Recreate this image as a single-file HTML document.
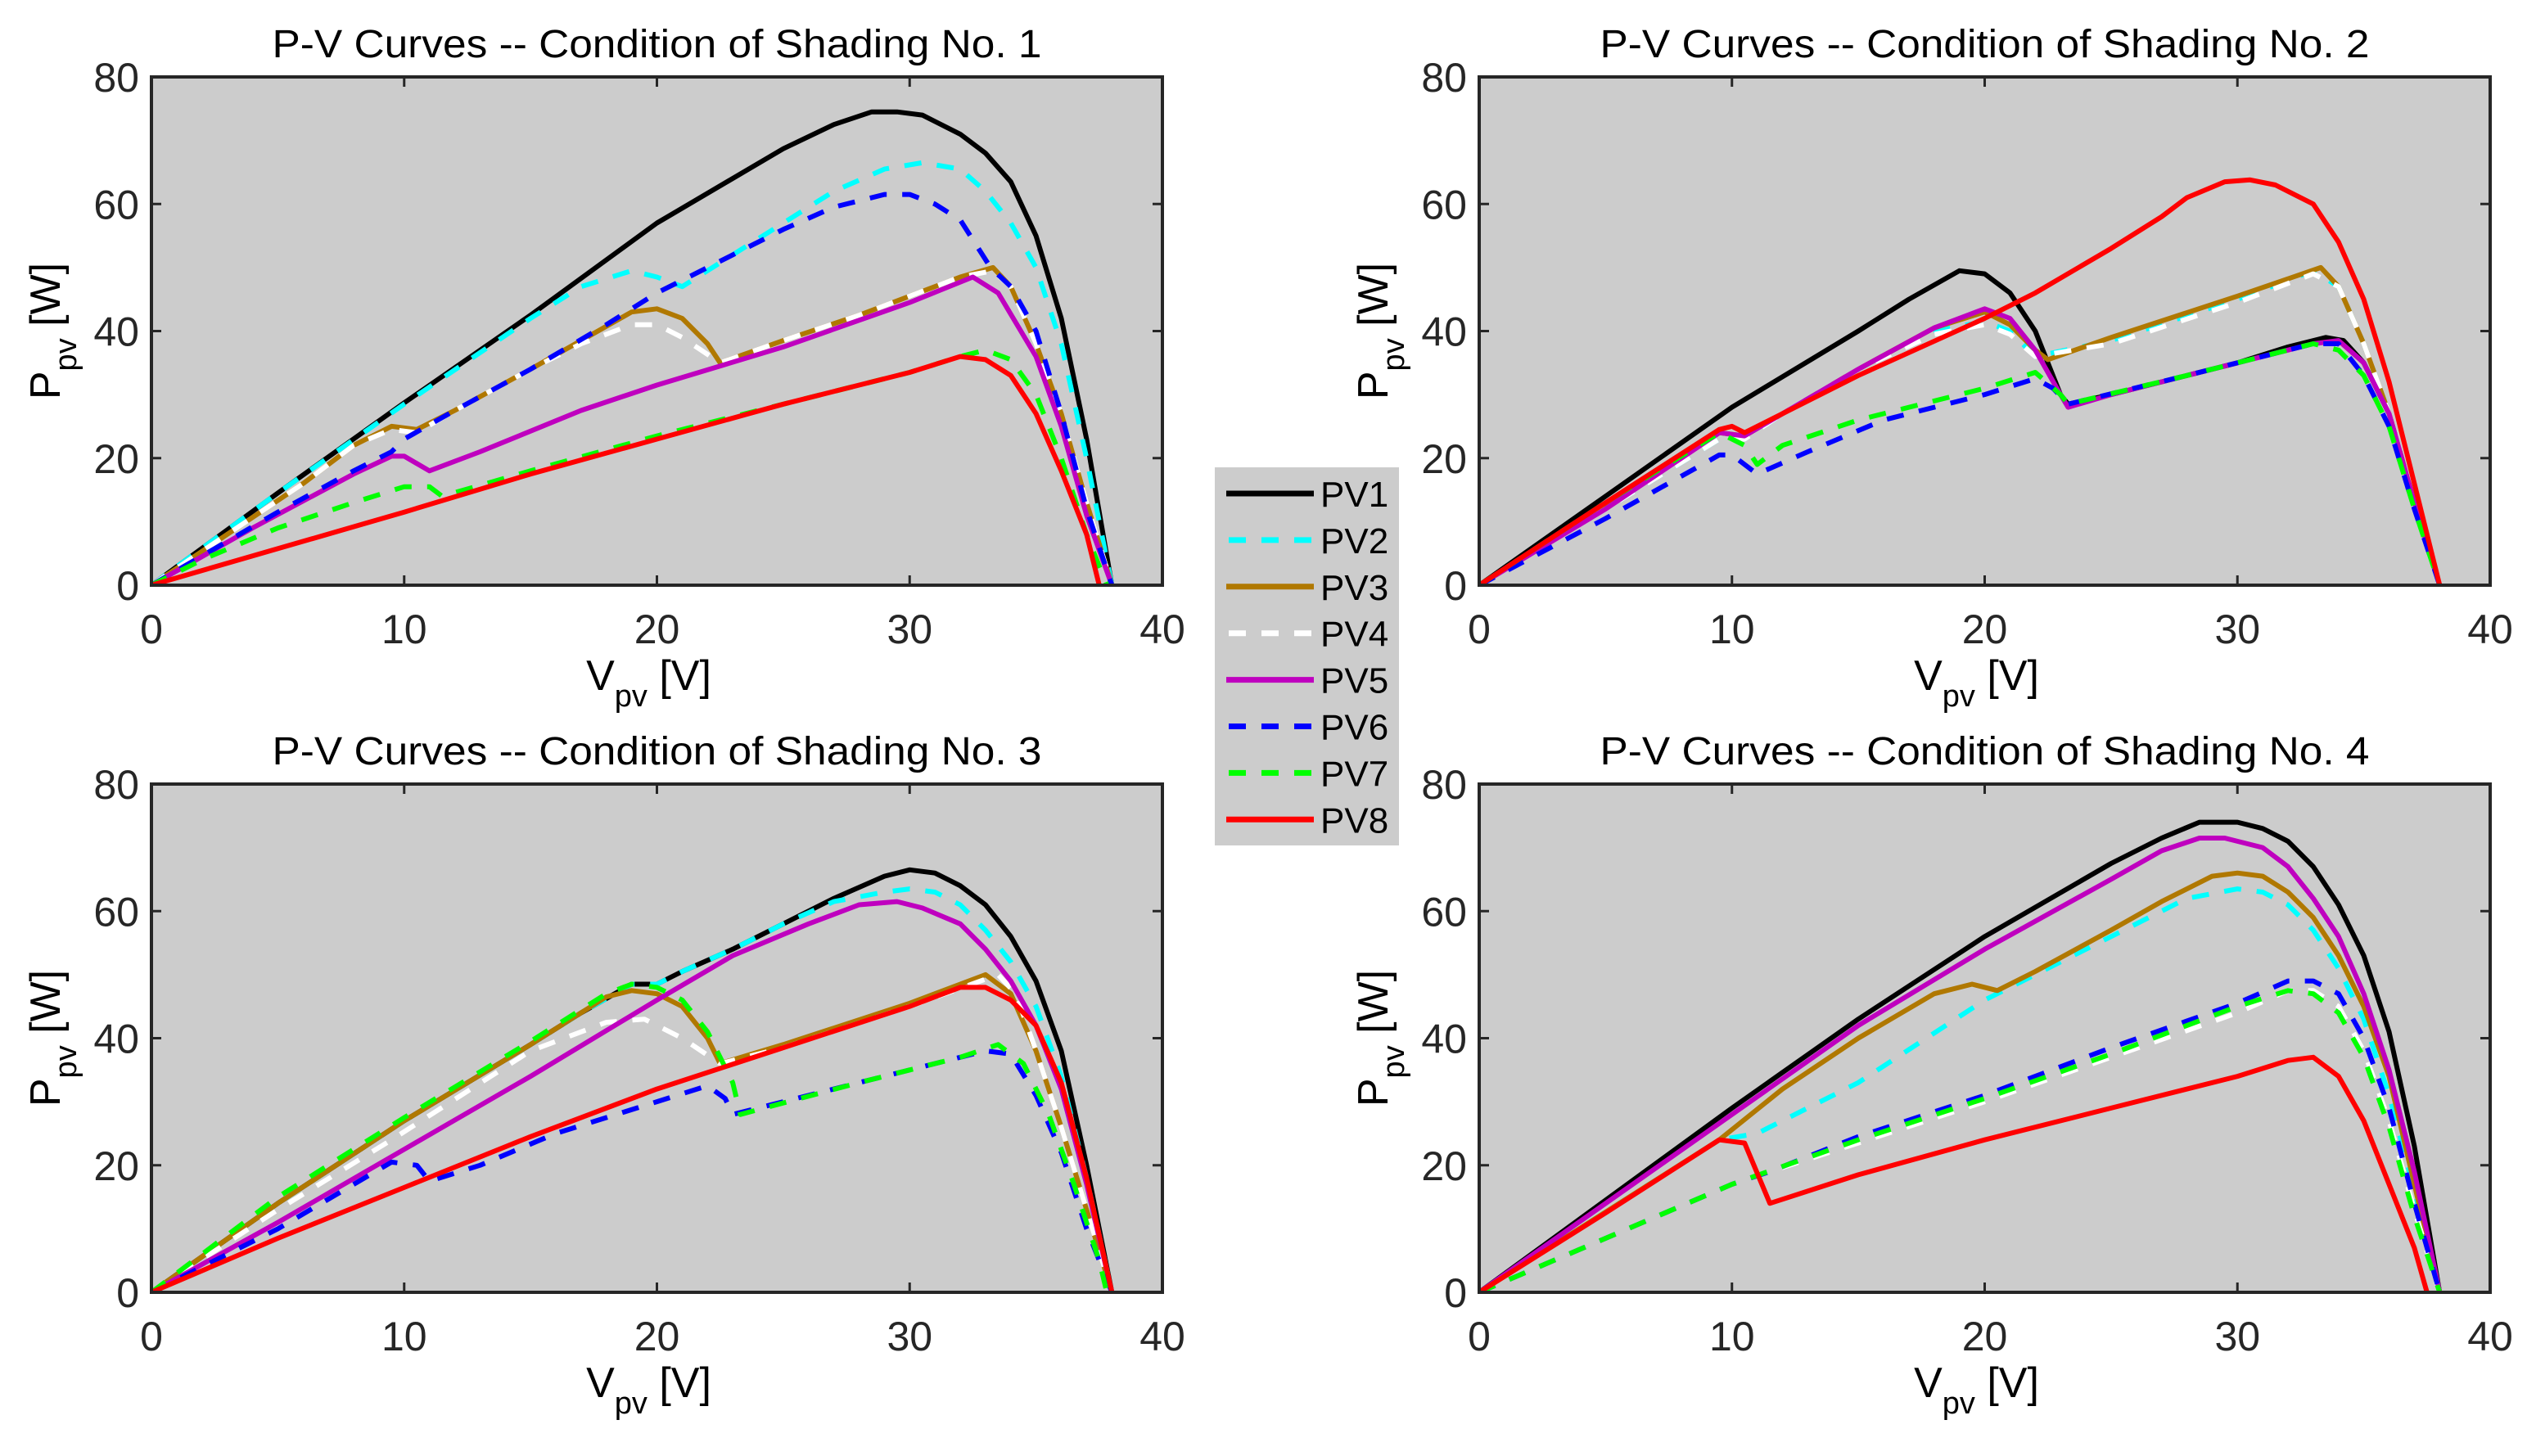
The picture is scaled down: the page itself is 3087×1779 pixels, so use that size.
<!DOCTYPE html>
<html><head><meta charset="utf-8"><style>
html,body{margin:0;padding:0;background:#fff;}
svg{display:block;font-family:"Liberation Sans",Arial,sans-serif;}
</style></head><body>
<svg id="fig" width="3087" height="1779" viewBox="0 0 3087 1779" xmlns="http://www.w3.org/2000/svg"></svg>
<script>
// ---- data: [V, P] pairs per shading condition / PV curve ----
const sh1_pv1=[[0,0],[5,14.5],[10,28.7],[15,42.5],[20,57],[25,68.7],[27,72.5],[28.5,74.5],[29.5,74.5],[30.5,74],[32,71],[33,68],[34,63.5],[35,55],[36,42],[37,23],[38,0]];
const sh1_pv2=[[0,0],[5,14.5],[10,28.5],[15,42],[17,47],[19,49.5],[20,48.5],[21,47],[23,52],[25,57],[27,62],[29,65.5],[30.5,66.5],[32,65.5],[33,62],[34,57],[35,50],[36,38],[37,20],[38,0]];
const sh1_pv3=[[0,0],[3,8],[6,16],[8,22],[9.5,25],[10.5,24.5],[12,27.5],[15,34],[17,38.5],[19,43],[20,43.5],[21,42],[22,38],[22.5,35],[25,38.5],[28,42.5],[30,45.5],[32,48.5],[33.3,50],[34,47],[35,38],[36,27],[37,13],[38,0]];
const sh1_pv4=[[0,0],[3,8],[6,16],[8,22],[9.5,24.5],[10.5,24],[12,27.5],[15,34],[17,38],[19,41],[20,41],[21,39],[22.5,35],[25,38.5],[28,42.5],[30,45.5],[32,48.5],[33.3,49.5],[34,47],[35,38],[36,27],[37,13],[38,0]];
const sh1_pv5=[[0,0],[4,9],[8,17.5],[9.5,20.3],[10,20.3],[11,18],[13,21],[17,27.5],[20,31.5],[25,37.5],[30,44.5],[32.5,48.5],[33.5,46],[35,36],[36,25],[37,11],[38,0]];
const sh1_pv6=[[0,0],[5,11.5],[8,18],[9.5,21],[10,23],[12,27.5],[15,34],[18,41],[20,46],[22,50],[25,56],[27,59.5],[29,61.5],[30,61.5],[31,60],[32,57.5],[33.2,50],[34,47],[35,40],[36,27],[37,12],[38,0]];
const sh1_pv7=[[0,0],[2,4],[5,9],[8,13],[10,15.5],[11,15.5],[11.5,14],[15,18],[20,23.5],[25,28.5],[30,33.5],[32,36],[33,37],[34,35.5],[35,30],[36,20],[37,8],[37.8,0]];
const sh1_pv8=[[0,0],[10,11.5],[15,17.5],[20,23],[25,28.5],[30,33.5],[32,36],[33,35.5],[34,33],[35,27],[36,18],[37,8],[37.5,0]];

const sh2_pv1=[[0,0],[5,14],[10,28],[15,40],[17,45],[19,49.5],[20,49],[21,46],[22,40],[23,30],[23.3,28.5],[25,30],[28,33],[30,35],[32,37.5],[33.5,39],[34.2,38.5],[35,35],[36,27],[37,13],[38,0]];
const sh2_pv2=[[0,0],[5,12],[9.5,23],[10.5,23],[12,27],[15,34],[18,40],[20,41.5],[21,40],[22,36],[25,38.5],[30,45],[33,49.5],[34,47],[35,38],[36,27],[37,13],[38,0]];
const sh2_pv3=[[0,0],[5,12.5],[9.5,24],[10.5,23.5],[12,27],[15,34],[18,40.5],[20,43],[21,41],[22,37],[22.5,35.5],[25,39],[30,45.5],[33.3,50],[34,47],[35,38],[36,27],[37,13],[38,0]];
const sh2_pv4=[[0,0],[5,12],[9.5,23],[10.5,23],[12,27],[15,34],[18,39.5],[20,41],[21,39.5],[22,36],[25,38],[30,44.5],[33,49],[34,47],[35,38],[36,27],[37,13],[38,0]];
const sh2_pv5=[[0,0],[5,12],[9.5,24],[10.5,23.5],[12,27],[15,34],[18,40.5],[20,43.5],[21,42],[22,37],[23,30],[23.3,28],[25,30],[30,35],[33,38],[34,38.5],[35,35],[36,27],[37,13],[38,0]];
const sh2_pv6=[[0,0],[5,10.5],[9.5,20.5],[10,20.5],[11,17.5],[13,21],[16,26],[20,30],[22,32.5],[22.7,31],[23.3,28.5],[28,33],[33,38],[34,38],[35,33],[36,25],[37,12],[38,0]];
const sh2_pv7=[[0,0],[5,13],[9.5,24],[10.5,22],[11,19],[12,22],[15,26],[20,31],[22,33.5],[23,30],[23.3,28.5],[28,33],[33,38],[34,37],[35,33],[36,25],[37,12],[38,0]];
const sh2_pv8=[[0,0],[5,13],[9.5,24.5],[10,25],[10.5,24],[12,27],[15,33],[20,42],[22,46],[25,53],[27,58],[28,61],[29.5,63.5],[30.5,63.8],[31.5,63],[33,60],[34,54],[35,45],[36,32],[37,16],[38,0]];

const sh3_pv1=[[0,0],[5,14],[10,27],[15,39],[17,44],[19,48.5],[20,48.5],[21,50.5],[23,54],[25,58],[27,62],[29,65.5],[30,66.5],[31,66],[32,64],[33,61],[34,56],[35,49],[36,38],[37,20],[38,0]];
const sh3_pv2=[[0,0],[5,14],[10,27],[15,39],[17,44],[19,48.5],[20,48.5],[21,50.5],[23,54],[25,58],[27,61.5],[29,63],[30,63.5],[31,63],[32,61],[33,57],[34,52],[35,45],[36,34],[37,18],[38,0]];
const sh3_pv3=[[0,0],[5,14],[10,27],[15,39],[18,46.5],[19,47.5],[20,47],[21,45],[22,40],[22.5,36],[25,39],[30,45.5],[33,50],[34,47],[35,38],[36,26],[37,13],[38,0]];
const sh3_pv4=[[0,0],[5,13],[9.5,24],[15,38],[18,42.5],[19.5,43],[21,40],[22.5,36],[25,38.5],[30,45],[33.5,50],[34.2,47],[35,38],[36,26],[37,13],[38,0]];
const sh3_pv5=[[0,0],[5,11],[10,22.5],[15,34],[20,46],[23,53],[26,58],[28,61],[29.5,61.5],[30.5,60.5],[32,58],[33,54],[34,49],[35,42],[36,32],[37,17],[38,0]];
const sh3_pv6=[[0,0],[5,10],[9.5,20.5],[10.5,20],[11,17.5],[13,20],[16,25],[20,30],[22,32.5],[22.7,30.5],[23,28],[28,33],[32,37],[33,38],[34,37.5],[35,31],[36,22],[37,10],[38,0]];
const sh3_pv7=[[0,0],[5,15],[10,27.5],[15,39.5],[18,47],[19,48.5],[20,48],[21,46],[22,41],[23,33],[23.3,28],[28,33],[32,37],[33.5,39],[34.5,36],[35.5,28],[36.5,17],[37.5,5],[37.8,0]];
const sh3_pv8=[[0,0],[5,8.5],[10,16.5],[15,24.5],[20,32],[25,38.5],[30,45],[32,48],[33,48],[34,46],[35,42],[36,33],[37,18],[38,0]];

const sh4_pv1=[[0,0],[5,14.5],[10,29],[15,43],[20,56],[25,67.5],[27,71.5],[28.5,74],[30,74],[31,73],[32,71],[33,67],[34,61],[35,53],[36,41],[37,23],[38,0]];
const sh4_pv2=[[0,0],[9.5,24],[11,25],[15,33],[20,46],[25,56],[28,62],[30,63.5],[31,63],[32,61],[33,57],[34,51],[35,43],[36,31],[37,16],[38,0]];
const sh4_pv3=[[0,0],[9.5,24],[12,32],[15,40],[18,47],[19.5,48.5],[20.5,47.5],[22,50.5],[25,57],[27,61.5],[29,65.5],[30,66],[31,65.5],[32,63],[33,59],[34,53],[35,45],[36,34],[37,17],[38,0]];
const sh4_pv4=[[0,0],[10,17],[11.5,19],[15,23.5],[20,30],[25,37],[30,44],[32,47.5],[33,47.5],[34,45],[35,38],[36,27],[37,13],[38,0]];
const sh4_pv5=[[0,0],[10,28],[15,42],[20,54],[25,65],[27,69.5],[28.5,71.5],[29.5,71.5],[31,70],[32,67],[33,62],[34,56],[35,47],[36,35],[37,19],[38,0]];
const sh4_pv6=[[0,0],[5,8.5],[10,17],[11.5,19],[15,24.5],[20,31],[25,38.5],[30,45.5],[32,49],[33,49],[34,47],[35,40],[36,29],[37,14],[38,0]];
const sh4_pv7=[[0,0],[5,8.5],[10,17],[15,24],[20,30.5],[25,37.5],[30,45],[32,47.5],[33,47],[34,44],[35,37],[36,26],[37,12],[38,0]];
const sh4_pv8=[[0,0],[5,12.5],[9.5,24],[10.5,23.5],[11.5,14],[15,18.5],[20,24],[25,29],[30,34],[32,36.5],[33,37],[34,34],[35,27],[36,17],[37,7],[37.5,0]];

const seriesNames=["PV1","PV2","PV3","PV4","PV5","PV6","PV7","PV8"];
const xTicks=[0,10,20,30,40];
const yTicks=[0,20,40,60,80];
const panelTitles=["P-V Curves -- Condition of Shading No. 1","P-V Curves -- Condition of Shading No. 2","P-V Curves -- Condition of Shading No. 3","P-V Curves -- Condition of Shading No. 4"];
const panelData=[
 [sh1_pv1,sh1_pv2,sh1_pv3,sh1_pv4,sh1_pv5,sh1_pv6,sh1_pv7,sh1_pv8],
 [sh2_pv1,sh2_pv2,sh2_pv3,sh2_pv4,sh2_pv5,sh2_pv6,sh2_pv7,sh2_pv8],
 [sh3_pv1,sh3_pv2,sh3_pv3,sh3_pv4,sh3_pv5,sh3_pv6,sh3_pv7,sh3_pv8],
 [sh4_pv1,sh4_pv2,sh4_pv3,sh4_pv4,sh4_pv5,sh4_pv6,sh4_pv7,sh4_pv8]];

// ---- styling / layout ----
const colors=["#000000","#00ffff","#b07800","#ffffff","#bf00bf","#0000ff","#00ff00","#ff0000"];
const dashed=[false,true,false,true,false,true,true,false];
const panels=[{x:185,y:94},{x:1807,y:94},{x:185,y:958},{x:1807,y:958}];
const W=1235,H=621,XMAX=40,YMAX=80;
const NS="http://www.w3.org/2000/svg";
const svg=document.getElementById("fig");
function mk(tag,attrs,parent){const e=document.createElementNS(NS,tag);for(const k in attrs)e.setAttribute(k,attrs[k]);(parent||svg).appendChild(e);return e;}

panels.forEach((pn,pi)=>{
  const g=mk("g",{});
  
  
  const sx=v=>pn.x+v/XMAX*W, sy=p=>pn.y+H-p/YMAX*H;
  const bg=mk("rect",{x:pn.x,y:pn.y,width:W,height:H,fill:"#cccccc"},g);
  
  
  const cp=mk("clipPath",{id:"cp"+pi},g);
  mk("rect",{x:pn.x,y:pn.y-6,width:W,height:H+6},cp);
  const lines=mk("g",{"clip-path":"url(#cp"+pi+")"},g);
  panelData[pi].forEach((ser,si)=>{
    const pts=ser.map(d=>sx(d[0]).toFixed(1)+","+sy(d[1]).toFixed(1)).join(" ");
    const pl=mk("polyline",{points:pts,fill:"none",stroke:colors[si],"stroke-width":6,"stroke-linejoin":"round"},lines);
    if(dashed[si])pl.setAttribute("stroke-dasharray","21 19");
    
    
  });
  mk("rect",{x:pn.x,y:pn.y,width:W,height:H,fill:"none",stroke:"#262626","stroke-width":4},g);
  xTicks.forEach(t=>{
    const x=sx(t);
    mk("line",{x1:x,y1:pn.y+H,x2:x,y2:pn.y+H-12,stroke:"#262626","stroke-width":3},g);
    mk("line",{x1:x,y1:pn.y,x2:x,y2:pn.y+12,stroke:"#262626","stroke-width":3},g);
    const tx=mk("text",{x:x,y:pn.y+H+71,"font-size":50,"text-anchor":"middle",fill:"#262626"},g);
    tx.textContent=t;
    
    
  });
  yTicks.forEach(t=>{
    const y=sy(t);
    mk("line",{x1:pn.x,y1:y,x2:pn.x+12,y2:y,stroke:"#262626","stroke-width":3},g);
    mk("line",{x1:pn.x+W,y1:y,x2:pn.x+W-12,y2:y,stroke:"#262626","stroke-width":3},g);
    const ty=mk("text",{x:pn.x-15,y:y+18,"font-size":50,"text-anchor":"end",fill:"#262626"},g);
    ty.textContent=t;
    
    
  });
  const ti=mk("text",{x:pn.x+W/2,y:pn.y-24,"font-size":48,"text-anchor":"middle",fill:"#000",textLength:940,lengthAdjust:"spacingAndGlyphs"},g);
  ti.textContent=panelTitles[pi];
  
  
  const xl=mk("text",{x:pn.x+W/2-10,y:pn.y+H+128,"font-size":52,"text-anchor":"middle",fill:"#000"},g);
  xl.innerHTML='V<tspan font-size="38" dy="20">pv</tspan><tspan dy="-20"> [V]</tspan>';
  
  
  const yl=mk("text",{x:0,y:0,"font-size":52,"text-anchor":"middle",fill:"#000",transform:"translate("+(pn.x-112)+","+(pn.y+H/2)+") rotate(-90)"},g);
  yl.innerHTML='P<tspan font-size="38" dy="20">pv</tspan><tspan dy="-20"> [W]</tspan>';
  
  
});

// legend
const lg=mk("g",{});


mk("rect",{x:1484,y:571,width:225,height:462,fill:"#cccccc"},lg);
seriesNames.forEach((n,i)=>{
  const y=603+i*56.9;
  const e=mk("g",{},lg);
  
  
  const l=mk("line",{x1:1498,y1:y,x2:1605,y2:y,stroke:colors[i],"stroke-width":7},e);
  if(dashed[i]){l.setAttribute("x1",1501);l.setAttribute("x2",1602);l.setAttribute("stroke-dasharray","21 19");}
  const t=mk("text",{x:1613,y:y+16,"font-size":44,fill:"#000"},e);
  t.textContent=n;
});
</script>
</body></html>
